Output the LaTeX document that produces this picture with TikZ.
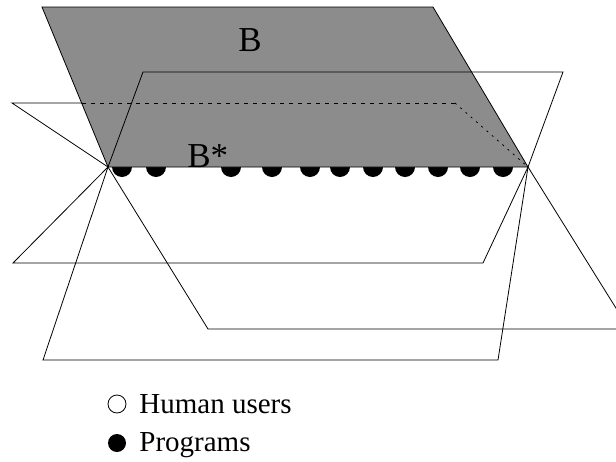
\documentclass[tikz,border=0pt]{standalone}
\usepackage{fontspec}
\setmainfont{Liberation Serif}
\definecolor{planegray}{RGB}{140,140,140}
\newcommand{\hingey}{167}

\begin{document}
\begin{tikzpicture}[x=1pt,y=-1pt,line width=0.8pt,
    planelabel/.style={inner sep=0pt,font=\fontsize{35}{40}\selectfont},
    legendtext/.style={anchor=base west,inner sep=0pt,font=\fontsize{29}{34}\selectfont},
    legendmark/.style={circle,inner sep=0pt,minimum size=18pt,line width=0.8pt}]
\useasboundingbox (0,0) rectangle (616,461);

% hinge where all planes meet
\coordinate (L) at (108,\hingey);
\coordinate (R) at (528,\hingey);

% draw programs on the hinge
\foreach \px in {122,156,231,272,310,340,373,405,438,470,503}
    \fill[black] (\px,\hingey) circle (10);

% draw shaded plane B
\draw[fill=planegray] (L) -- (42,7) -- (433,7) -- (R) -- cycle;

% first plane (partly hidden behind B)
\draw (L) -- (12,103) -- (82,103);
\draw[dash pattern=on 4pt off 5pt] (82,103) -- (455,103);
\draw[dash pattern=on 2pt off 5pt] (455,103) -- (R);
\draw (L) -- (13,263) -- (483,263) -- (R);

% second plane
\draw (L) -- (143,72) -- (563,72) -- (R);
\draw (L) -- (43,360) -- (498,360) -- (R);

% lower half of plane B
\draw (L) -- (208,329) -- (629,329) -- (R);

% labels
\node[planelabel] (b) at (250,40.5) {B};
\node[planelabel,anchor=base west] (bstar) at (187,167) {B*};

% legend
\node[legendmark,draw] (human) at (117,404) {};
\node[legendtext] (humantext) at (139,413) {Human users};
\node[legendmark,fill] (prog) at (117,443) {};
\node[legendtext] (progtext) at (139,451.5) {Programs};

\end{tikzpicture}
\end{document}
